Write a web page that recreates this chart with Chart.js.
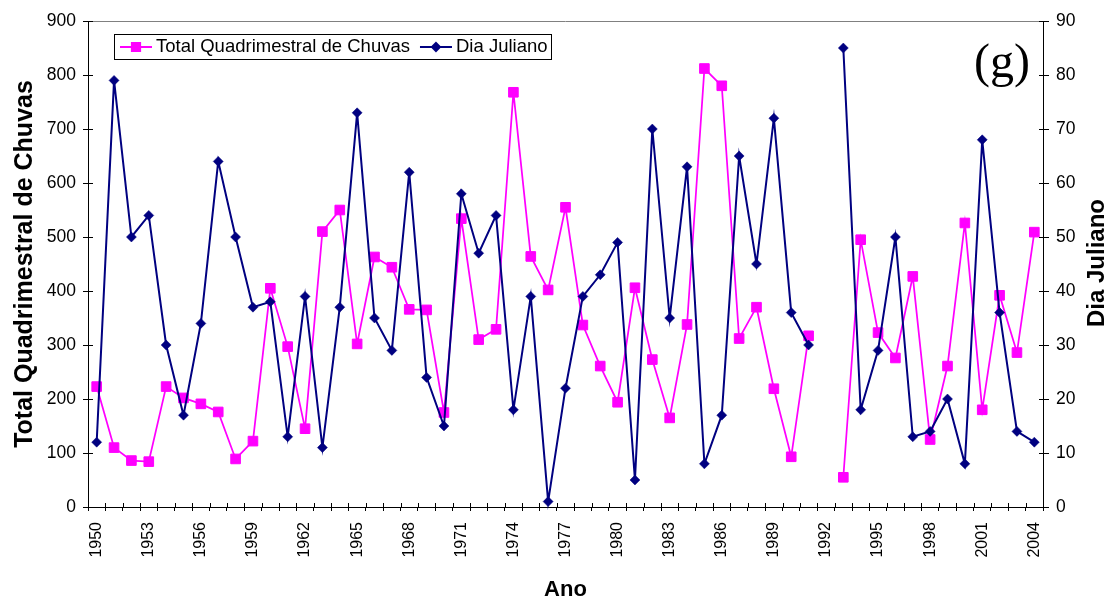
<!DOCTYPE html>
<html>
<head>
<meta charset="utf-8">
<script src="https://cdn.jsdelivr.net/npm/chart.js@4.4.1/dist/chart.umd.min.js"></script>
<style>
   body { margin: 0; background: #fff; }
   #wrap { width: 1113px; height: 603px; }
</style>
</head>
<body>
<div id="wrap"><canvas id="chart" width="1113" height="603"></canvas></div>
<script>
const anos = [
   '1950','1951','1952','1953','1954','1955','1956','1957','1958','1959',
   '1960','1961','1962','1963','1964','1965','1966','1967','1968','1969',
   '1970','1971','1972','1973','1974','1975','1976','1977','1978','1979',
   '1980','1981','1982','1983','1984','1985','1986','1987','1988','1989',
   '1990','1991','1992','1993','1994','1995','1996','1997','1998','1999',
   '2000','2001','2002','2003','2004'
];

// Total quadrimestral de chuvas (eixo esquerdo)
const chuvas = [
   223, 110, 86, 84, 223, 202, 191, 176, 89, 122,
   405, 297, 145, 510, 550, 302, 463, 444, 366, 365,
   175, 534, 310, 329, 768, 464, 402, 555, 337, 261,
   194, 406, 273, 165, 338, 812, 780, 312, 370, 219,
   93, 317, null, 55, 495, 323, 276, 427, 125, 261,
   526, 180, 392, 286, 509
];

// Dia juliano (eixo direito)
const diaJuliano = [
   12, 79, 50, 54, 30, 17, 34, 64, 50, 37,
   38, 13, 39, 11, 37, 73, 35, 29, 62, 24,
   15, 58, 47, 54, 18, 39, 1, 22, 39, 43,
   49, 5, 70, 35, 63, 8, 17, 65, 45, 72,
   36, 30, null, 85, 18, 29, 50, 13, 14, 20,
   8, 68, 36, 14, 12
];

const MAGENTA = '#FF00FF';
const NAVY = '#000080';
const FONT = "'Liberation Sans', Arial, sans-serif";

Chart.defaults.font.family = FONT;
Chart.defaults.color = '#000';

const extras = {
   id: 'extras',
   beforeDatasetsDraw(chart) {
      let ctx = chart.ctx;
      let area = chart.chartArea;
      let {x, y, y1} = chart.scales;
      ctx.save();
      // borda superior cinza da area do grafico
      ctx.strokeStyle = '#808080';
      ctx.lineWidth = 1;
      ctx.beginPath();
      ctx.moveTo(area.left, area.top + 0.5);
      ctx.lineTo(area.right, area.top + 0.5);
      ctx.stroke();

      // marcas que cruzam os eixos (parte interna)
      ctx.strokeStyle = '#000';
      ctx.beginPath();
      y.ticks.forEach((t) => {
         let py = Math.round(y.getPixelForValue(t.value)) + 0.5;
         ctx.moveTo(area.left, py);
         ctx.lineTo(area.left + 5, py);
      });
      y1.ticks.forEach((t) => {
         let py = Math.round(y1.getPixelForValue(t.value)) + 0.5;
         ctx.moveTo(area.right, py);
         ctx.lineTo(area.right - 4, py);
      });
      for (let i = 0; i <= anos.length; i++) {
         let px = Math.round(x.getPixelForValue(i - 0.5)) + 0.5;
         ctx.moveTo(px, area.bottom);
         ctx.lineTo(px, area.bottom - 4);
      }
      ctx.stroke();
      ctx.restore();
   },
   afterDraw(chart) {
      let ctx = chart.ctx;
      ctx.save();

      // legenda dentro da area do grafico
      ctx.fillStyle = '#fff';
      ctx.fillRect(114, 34, 438, 25);
      ctx.strokeStyle = '#000';
      ctx.lineWidth = 1;
      ctx.strokeRect(114.5, 34.5, 437, 25);

      ctx.font = '18.5px ' + FONT;
      ctx.textBaseline = 'middle';
      let legendY = 47;
      let startX = 120;
      chart.data.datasets.forEach((ds) => {
         ctx.strokeStyle = ds.borderColor;
         ctx.lineWidth = 2;
         ctx.beginPath();
         ctx.moveTo(startX, legendY);
         ctx.lineTo(startX + 32, legendY);
         ctx.stroke();
         ctx.fillStyle = ds.pointBackgroundColor;
         ctx.strokeStyle = ds.pointBorderColor;
         Chart.helpers.drawPoint(ctx, {
            pointStyle: ds.pointStyle,
            radius: ds.pointRadius - 1,
            rotation: 0,
            borderWidth: ds.pointBorderWidth
         }, startX + 16, legendY);
         ctx.fillStyle = '#000';
         ctx.fillText(ds.label, startX + 36, legendY);
         startX += 36 + ctx.measureText(ds.label).width + 10;
      });

      // titulo do eixo direito (lido de baixo para cima)
      ctx.font = 'bold 24px ' + FONT;
      ctx.textAlign = 'center';
      ctx.translate(1097, 263);
      ctx.rotate(-Math.PI / 2);
      ctx.fillText('Dia Juliano', 0, 0);
      ctx.setTransform(1, 0, 0, 1, 0, 0);

      // identificador do painel
      ctx.font = "48px 'Liberation Serif', 'Times New Roman', serif";
      ctx.textBaseline = 'alphabetic';
      ctx.fillText('(g)', 1002, 77);
      ctx.restore();
   }
};

let ctx = document.getElementById('chart').getContext('2d');

new Chart(ctx, {
   type: 'line',
   data: {
      labels: anos,
      datasets: [{
         label: 'Total Quadrimestral de Chuvas',
         data: chuvas,
         yAxisID: 'y',
         borderColor: MAGENTA,
         backgroundColor: MAGENTA,
         borderWidth: 1.75,
         pointStyle: 'rect',
         pointRadius: 6.8,
         pointBackgroundColor: MAGENTA,
         pointBorderColor: MAGENTA,
         pointBorderWidth: 1,
         tension: 0,
         spanGaps: false,
         clip: false,
         order: 1
      }, {
         label: 'Dia Juliano',
         data: diaJuliano,
         yAxisID: 'y1',
         borderColor: NAVY,
         backgroundColor: NAVY,
         borderWidth: 2,
         pointStyle: 'rectRot',
         pointRadius: 5,
         pointBackgroundColor: NAVY,
         pointBorderColor: NAVY,
         pointBorderWidth: 0.5,
         tension: 0,
         spanGaps: false,
         clip: false,
         order: 0
      }]
   },
   options: {
      responsive: false,
      animation: false,
      layout: { padding: { top: 21, left: 0, right: 0, bottom: 0 } },
      plugins: {
         legend: { display: false },
         tooltip: { enabled: false }
      },
      scales: {
         x: {
            offset: true,
            grid: { offset: true, drawOnChartArea: false, tickLength: 4, color: '#000' },
            border: { color: '#000', width: 1 },
            ticks: {
               autoSkip: false,
               minRotation: 90,
               maxRotation: 90,
               padding: 11,
               font: { size: 16 },
               color: '#000',
               callback: function(value, index) {
                  return index % 3 === 0 ? this.getLabelForValue(value) : '';
               }
            },
            title: {
               display: true,
               text: 'Ano',
               font: { size: 22, weight: 'bold' },
               color: '#000',
               padding: { top: 0, bottom: 0 }
            },
            afterFit: (scale) => { scale.height = 96; }
         },
         y: {
            position: 'left',
            min: 0,
            max: 900,
            grid: { drawOnChartArea: false, tickLength: 5, color: '#000' },
            border: { color: '#000', width: 1 },
            ticks: { stepSize: 100, padding: 7, font: { size: 17.5 }, color: '#000' },
            title: {
               display: true,
               text: 'Total Quadrimestral de Chuvas',
               font: { size: 25, weight: 'bold' },
               color: '#000',
               padding: { top: 10, bottom: 0 }
            },
            afterFit: (scale) => { scale.width = 88; }
         },
         y1: {
            position: 'right',
            min: 0,
            max: 90,
            grid: { drawOnChartArea: false, tickLength: 6, color: '#000' },
            border: { color: '#000', width: 1 },
            ticks: { stepSize: 10, padding: 7, font: { size: 17.5 }, color: '#000' },
            afterFit: (scale) => { scale.width = 70; }
         }
      }
   },
   plugins: [extras]
});
</script>
</body>
</html>
